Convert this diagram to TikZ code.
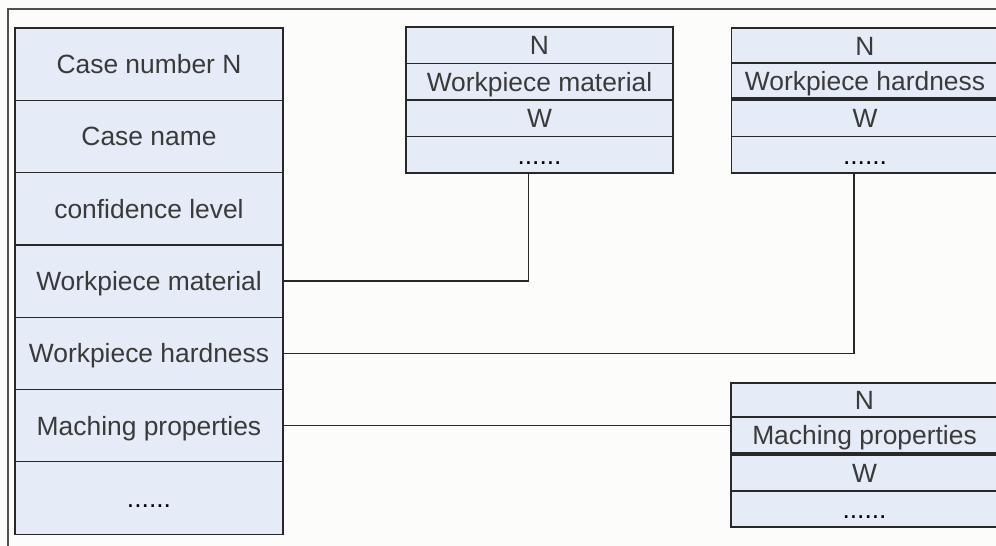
\documentclass[tikz,border=0pt]{standalone}
\usepackage{fontspec}
\setmainfont{Liberation Sans}
\usetikzlibrary{calc}
\definecolor{bg}{RGB}{252,252,250}
\definecolor{cellfill}{RGB}{229,236,247}
\definecolor{txt}{RGB}{58,58,58}
\definecolor{edge}{RGB}{40,40,40}
\definecolor{framec}{RGB}{80,80,80}
\begin{document}
\begin{tikzpicture}[x=1pt,y=-1pt,
  cell/.style={draw=edge, line width=1.2pt, fill=cellfill, rectangle, inner sep=0pt,
    text=txt, font=\fontsize{26.4}{30}\selectfont, text height=19pt, text depth=0pt, align=center},
  bigcell/.style={cell, minimum width=268pt, minimum height=72.3pt},
  smallcell/.style={cell, minimum width=267pt},
  dots/.style={text=black},
  link/.style={draw=edge, line width=1.2pt}]
\useasboundingbox (0,0) rectangle (996,546);
\clip (0,0) rectangle (996,546);
\fill[bg] (0,0) rectangle (996,546);
\draw[framec, line width=1.6pt] (8,547) -- (8,9) -- (997,9);

% left column
\node[bigcell] (l1) at (149,64.15) {Case number N};
\node[bigcell] (l2) at (149,136.45) {Case name};
\node[bigcell] (l3) at (149,208.75) {confidence level};
\node[bigcell] (l4) at (149,281.05) {Workpiece material};
\node[bigcell] (l5) at (149,353.35) {Workpiece hardness};
\node[bigcell] (l6) at (149,425.65) {Maching properties};
\node[bigcell, dots] (l7) at (149,497.95) {......};

% box 1
\node[smallcell, minimum height=36.5pt] (a1) at (539.5,45.25) {N};
\node[smallcell, minimum height=36.5pt] (a2) at (539.5,81.75) {Workpiece material};
\node[smallcell, minimum height=36.5pt] (a3) at (539.5,118.25) {W};
\node[smallcell, minimum height=36.5pt, dots] (a4) at (539.5,154.75) {......};

% box 2
\node[smallcell, minimum height=35pt] (b1) at (865,45.5) {N};
\node[smallcell, minimum height=35pt] (b2) at (865,80.5) {Workpiece hardness};
\node[smallcell, minimum height=36.5pt] (b3) at (865,118.25) {W};
\node[smallcell, minimum height=36.5pt, dots] (b4) at (865,154.75) {......};

% box 3
\node[smallcell, minimum height=34pt] (c1) at (864.5,400) {N};
\node[smallcell, minimum height=36pt] (c2) at (864.5,435) {Maching properties};
\node[smallcell, minimum height=36pt] (c3) at (864.5,473) {W};
\node[smallcell, minimum height=36pt, dots] (c4) at (864.5,509) {......};

% connectors
\draw[link] (l4.east) -| ($(a4.south)+(-11,0)$);
\draw[link] (l5.east) -| ($(b4.south)+(-11,0)$);
\draw[link] (l6.east) -- (l6.east -| c2.west);
\end{tikzpicture}
\end{document}
